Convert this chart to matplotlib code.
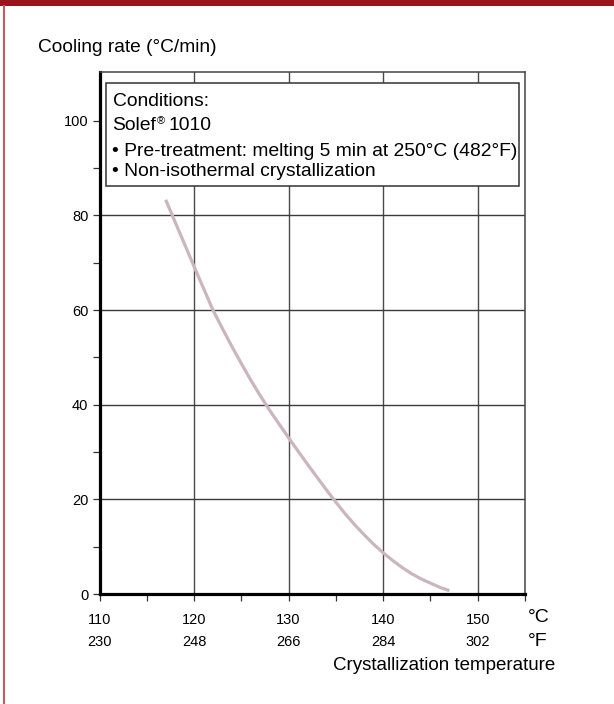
import matplotlib
matplotlib.use("Agg")
import matplotlib.pyplot as plt
from matplotlib.patches import Rectangle
from matplotlib.lines import Line2D

plt.rcParams['font.family'] = ['Liberation Sans', 'DejaVu Sans']

# Data
temp_c = [117, 118, 119, 120, 121, 122, 123, 124, 125, 126, 127, 128, 129, 130,
          131, 132, 133, 134, 135, 136, 137, 138, 139, 140, 141, 142, 143, 144,
          145, 146, 147]
cooling_rate = [83.3, 78.6, 73.9, 69.2, 64.6, 60.0, 56.1, 52.3, 48.7, 45.2, 41.9,
                38.8, 35.9, 33.0, 30.2, 27.4, 24.7, 22.0, 19.4, 16.9, 14.6, 12.5,
                10.5, 8.7, 7.1, 5.6, 4.3, 3.2, 2.3, 1.4, 0.7]

c_ticks = [110, 120, 130, 140, 150]
f_labels = ['230', '248', '266', '284', '302']
y_ticks = [0, 20, 40, 60, 80, 100]
conditions = ["Conditions:", "Solef", "• Pre-treatment: melting 5 min at 250°C (482°F)",
              "• Non-isothermal crystallization"]

W, H = 614, 704
fig = plt.figure(figsize=(W / 100, H / 100), dpi=100)

def fx(px):
    return px / W

def fy(py):
    return 1 - py / H

# frame decorations
fig.patches.append(Rectangle((0, fy(6)), 1, 6 / H, transform=fig.transFigure,
                             facecolor='#9b141c', edgecolor='none'))
fig.lines.append(Line2D([fx(3.5), fx(3.5)], [0, fy(6)], transform=fig.transFigure,
                        color='#c85a5e', lw=1.5))

ax = fig.add_axes([fx(99.5), fy(594), fx(525) - fx(99.5), fy(72) - fy(594)])
ax.set_xlim(110, 155)
ax.set_ylim(0, 110.3)

ax.plot(temp_c, cooling_rate, color='#cbb5bf', lw=2.3, solid_capstyle='butt',
        solid_joinstyle='round', zorder=3)

# grid
for xv in [120, 130, 140, 150]:
    ax.axvline(xv, color='#4a4a4a', lw=1.0, zorder=1)
for yv in [20, 40, 60, 80]:
    ax.axhline(yv, color='#3a3a3a', lw=1.0, zorder=1)

# spines
for s in ['left', 'bottom']:
    ax.spines[s].set_linewidth(2.3)
    ax.spines[s].set_color('black')
for s in ['top', 'right']:
    ax.spines[s].set_linewidth(1.1)
    ax.spines[s].set_color('#444444')

# ticks
xt = list(range(110, 156, 5))
ax.set_xticks(xt)
ax.set_xticklabels([str(v) if v in c_ticks else '' for v in xt], fontsize=10.5)
ax.set_yticks(y_ticks)
ax.set_yticklabels([str(v) for v in y_ticks], fontsize=10.5)
ax.set_yticks([10, 30, 50, 70, 90], minor=True)
ax.tick_params(axis='x', direction='out', length=5, width=0.9, color='#333333', pad=9)
ax.tick_params(axis='y', which='both', direction='out', length=5, width=0.9, color='#333333', pad=3)

# Fahrenheit row
for xv, lab in zip(c_ticks, f_labels):
    ax.text(xv, -(642.5 - 594) / 522, lab, transform=ax.get_xaxis_transform(),
            fontsize=10.5, ha='center', va='center', clip_on=False)

fig.text(fx(528), fy(618), '°C', fontsize=14, ha='left', va='center')
fig.text(fx(528), fy(641), '°F', fontsize=14, ha='left', va='center')
fig.text(fx(555), fy(666), 'Crystallization temperature', fontsize=13.5, ha='right', va='center')
fig.text(fx(38), fy(47), 'Cooling rate (°C/min)', fontsize=13.8, ha='left', va='center')

# conditions box
fig.patches.append(Rectangle((fx(106), fy(186)), fx(519) - fx(106), fy(83) - fy(186),
                             transform=fig.transFigure, facecolor='white',
                             edgecolor='#333333', lw=1.1, zorder=5))
tx = fx(112.5)
fs = 13.9
fig.text(tx, fy(102), conditions[0], fontsize=fs, ha='left', va='center', zorder=6)
t_solef = fig.text(tx, fy(125), conditions[1], fontsize=fs, ha='left', va='center', zorder=6)
fig.text(tx, fy(151.5), conditions[2], fontsize=fs, ha='left', va='center', zorder=6)
fig.text(tx, fy(171.5), conditions[3], fontsize=fs, ha='left', va='center', zorder=6)

fig.canvas.draw()
bb = t_solef.get_window_extent()
t_r = fig.text((bb.x1 + 0.5) / W, fy(121), '®', fontsize=8, ha='left', va='center', zorder=6)
fig.canvas.draw()
bb2 = t_r.get_window_extent()
fig.text((bb2.x1 + 4) / W, fy(125), '1010', fontsize=fs, ha='left', va='center', zorder=6)

fig.savefig('out.png', dpi=100)
